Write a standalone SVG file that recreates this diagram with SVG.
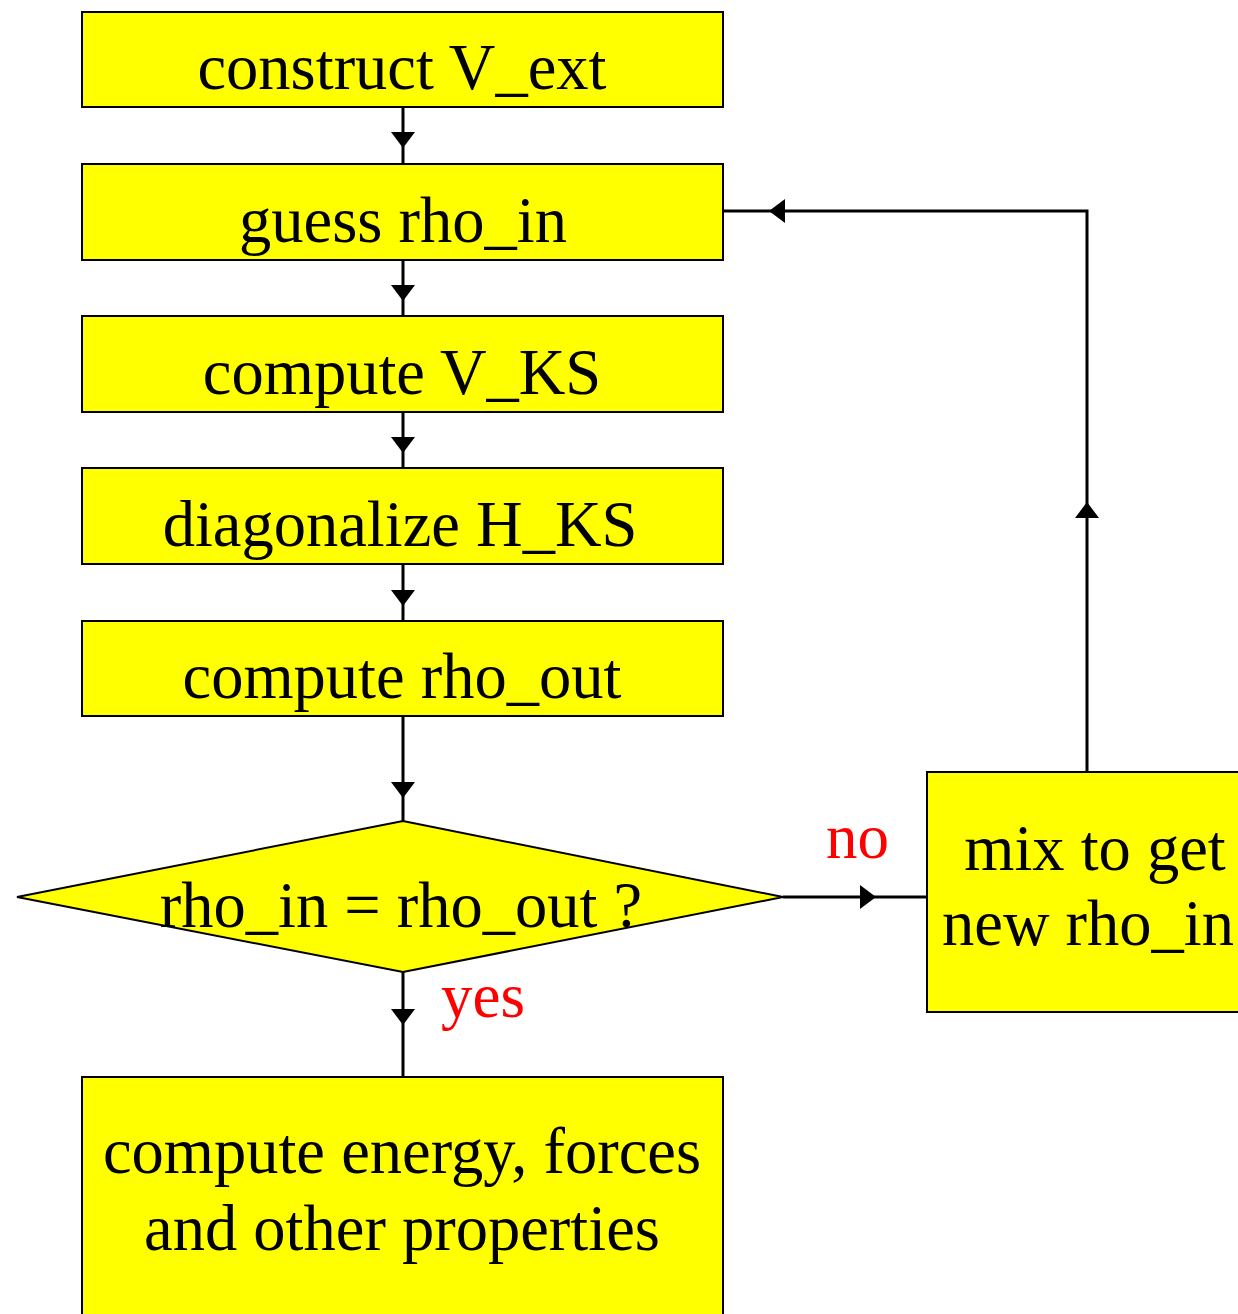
<svg xmlns="http://www.w3.org/2000/svg" width="1238" height="1314" viewBox="0 0 1238 1314">
  <style>
    .box { fill: #ffff00; stroke: #000; stroke-width: 2; }
    .lbl { font-family: "Liberation Serif", "Times New Roman", serif; font-size: 64.5px; fill: #000; text-anchor: middle; }
    .cond { font-family: "Liberation Serif", "Times New Roman", serif; font-size: 63px; fill: #ff0000; }
    .wire { fill: none; stroke: #000; stroke-width: 3; }
    .head { fill: #000; }
  </style>
  <rect width="1238" height="1314" fill="#fff"/>

  <!-- connectors, each with a mid-span arrowhead -->
  <g id="connectors">
    <path class="wire" d="M403 107 V164"/>
    <polygon class="head" points="391,132 415,132 403,148"/>
    <path class="wire" d="M403 260 V316"/>
    <polygon class="head" points="391,285 415,285 403,301"/>
    <path class="wire" d="M403 412 V468"/>
    <polygon class="head" points="391,437 415,437 403,453"/>
    <path class="wire" d="M403 564 V621"/>
    <polygon class="head" points="391,590 415,590 403,606"/>
    <path class="wire" d="M403 716 V821"/>
    <polygon class="head" points="391,782 415,782 403,798"/>
    <path class="wire" d="M403 972 V1077"/>
    <polygon class="head" points="391,1009 415,1009 403,1025"/>
    <path class="wire" d="M783 897 H927"/>
    <polygon class="head" points="860,885 860,909 876,897"/>
    <path class="wire" d="M1087 772 V211 H723"/>
    <polygon class="head" points="1075,518 1099,518 1087,502"/>
    <polygon class="head" points="785,199 785,223 769,211"/>
  </g>

  <g id="construct-vext">
    <rect class="box" x="82" y="12" width="641" height="95"/>
    <text class="lbl" x="402" y="89">construct V_ext</text>
  </g>
  <g id="guess-rho-in">
    <rect class="box" x="82" y="164" width="641" height="96"/>
    <text class="lbl" x="403" y="242">guess rho_in</text>
  </g>
  <g id="compute-vks">
    <rect class="box" x="82" y="316" width="641" height="96"/>
    <text class="lbl" x="402" y="394">compute V_KS</text>
  </g>
  <g id="diagonalize-hks">
    <rect class="box" x="82" y="468" width="641" height="96"/>
    <text class="lbl" x="400" y="546">diagonalize H_KS</text>
  </g>
  <g id="compute-rho-out">
    <rect class="box" x="82" y="621" width="641" height="95"/>
    <text class="lbl" x="402" y="698">compute rho_out</text>
  </g>
  <g id="converged">
    <polygon class="box" points="17,897 403,821 783,897 403,972"/>
    <text class="lbl" x="401" y="927">rho_in = rho_out ?</text>
  </g>
  <g id="mix">
    <rect class="box" x="927" y="772" width="320" height="240"/>
    <text class="lbl" x="1095" y="870">mix to get</text>
    <text class="lbl" x="1088" y="945">new rho_in</text>
  </g>
  <g id="properties">
    <rect class="box" x="82" y="1077" width="641" height="250"/>
    <text class="lbl" x="402" y="1173">compute energy, forces</text>
    <text class="lbl" x="402" y="1250">and other properties</text>
  </g>

  <g id="branch-labels">
    <text class="cond" x="826" y="858">no</text>
    <text class="cond" x="441" y="1017">yes</text>
  </g>
</svg>
